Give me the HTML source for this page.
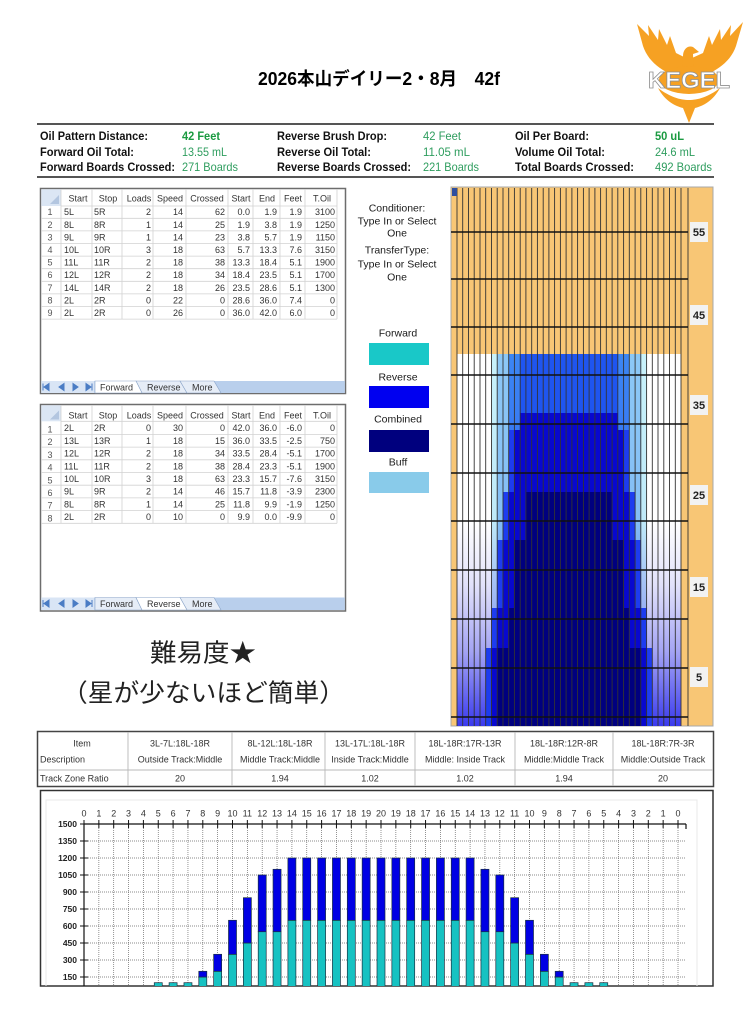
<!DOCTYPE html>
<html><head><meta charset="utf-8"><title>2026本山デイリー2・8月 42f</title>
<style>html,body{margin:0;padding:0;background:#fff;width:748px;height:1024px;overflow:hidden}svg{display:block}</style></head>
<body>
<svg width="748" height="1024" viewBox="0 0 748 1024" xmlns="http://www.w3.org/2000/svg" font-family="'Liberation Sans','Noto Sans CJK JP',sans-serif">
<defs>
<linearGradient id="gA" gradientUnits="userSpaceOnUse" x1="0" y1="354" x2="0" y2="726">
<stop offset="0" stop-color="#ffffff"/><stop offset="0.45" stop-color="#ffffff"/><stop offset="0.62" stop-color="#e2e2fa"/><stop offset="0.8" stop-color="#a4a4f4"/><stop offset="1" stop-color="#3a3aee"/></linearGradient>
<linearGradient id="gB" gradientUnits="userSpaceOnUse" x1="0" y1="354" x2="0" y2="726">
<stop offset="0" stop-color="#c8f2fb"/><stop offset="0.45" stop-color="#bfeaf9"/><stop offset="0.7" stop-color="#98aef4"/><stop offset="1" stop-color="#4654f0"/></linearGradient>
<linearGradient id="gC" gradientUnits="userSpaceOnUse" x1="0" y1="354" x2="0" y2="726">
<stop offset="0" stop-color="#8cc8f6"/><stop offset="0.45" stop-color="#84bef5"/><stop offset="1" stop-color="#3a55ef"/></linearGradient>
<linearGradient id="gD" gradientUnits="userSpaceOnUse" x1="0" y1="354" x2="0" y2="726">
<stop offset="0" stop-color="#3c86f4"/><stop offset="1" stop-color="#2a50f0"/></linearGradient>
<clipPath id="cc"><rect x="40" y="790" width="673" height="196"/></clipPath>
</defs>

<!-- Title -->
<text x="258" y="85" font-size="18" font-weight="bold" fill="#000" textLength="242" lengthAdjust="spacingAndGlyphs">2026本山デイリー2・8月　42f</text>

<!-- KEGEL logo -->
<g fill="#f6a123">
<path d="M686 80 C666 74 649 64 643 46 L637 24 L649 36 L648 25 L658 40 L659 29 L667 45 L670 36 L676 53 L686 58 Z"/>
<path d="M692 80 C712 74 730 64 736 46 L743 22 L730 36 L731 25 L721 40 L720 29 L712 45 L709 36 L703 53 L692 58 Z"/>
<path d="M682 78 L683 56 C683 49 688 45 693 47 L699 52 L693 54 L694 78 Z"/>
<ellipse cx="689" cy="80" rx="30" ry="14"/>
<path d="M658 88 C670 97 680 100 689 100 C698 100 708 97 720 88 C713 101 703 106 695 108 L689 123 L683 108 C675 106 665 101 658 88 Z"/>
</g>
<text x="648" y="88" font-size="23" font-weight="bold" fill="#fff" stroke="#8f8f8f" stroke-width="0.8" textLength="82" lengthAdjust="spacingAndGlyphs">KEGEL</text>

<!-- Info section -->
<line x1="37" y1="124" x2="714" y2="124" stroke="#555" stroke-width="2"/>
<line x1="37" y1="177" x2="714" y2="177" stroke="#555" stroke-width="2"/>
<g font-size="12" font-weight="bold" fill="#111">
<text x="40" y="139.8" textLength="108" lengthAdjust="spacingAndGlyphs">Oil Pattern Distance:</text>
<text x="40" y="155.8" textLength="94" lengthAdjust="spacingAndGlyphs">Forward Oil Total:</text>
<text x="40" y="170.8" textLength="135" lengthAdjust="spacingAndGlyphs">Forward Boards Crossed:</text>
<text x="277" y="139.8" textLength="110" lengthAdjust="spacingAndGlyphs">Reverse Brush Drop:</text>
<text x="277" y="155.8" textLength="94" lengthAdjust="spacingAndGlyphs">Reverse Oil Total:</text>
<text x="277" y="170.8" textLength="134" lengthAdjust="spacingAndGlyphs">Reverse Boards Crossed:</text>
<text x="515" y="139.8" textLength="74" lengthAdjust="spacingAndGlyphs">Oil Per Board:</text>
<text x="515" y="155.8" textLength="90" lengthAdjust="spacingAndGlyphs">Volume Oil Total:</text>
<text x="515" y="170.8" textLength="119" lengthAdjust="spacingAndGlyphs">Total Boards Crossed:</text>
<text x="182" y="139.8" fill="#1a9a40" textLength="38" lengthAdjust="spacingAndGlyphs">42 Feet</text>
<text x="655" y="139.8" fill="#1a9a40" textLength="29" lengthAdjust="spacingAndGlyphs">50 uL</text>
</g>
<g font-size="12" fill="#2e9d5e">
<text x="182" y="155.8" textLength="45" lengthAdjust="spacingAndGlyphs">13.55 mL</text>
<text x="182" y="170.8" textLength="56" lengthAdjust="spacingAndGlyphs">271 Boards</text>
<text x="423" y="139.8" textLength="38" lengthAdjust="spacingAndGlyphs">42 Feet</text>
<text x="423" y="155.8" textLength="47" lengthAdjust="spacingAndGlyphs">11.05 mL</text>
<text x="423" y="170.8" textLength="56" lengthAdjust="spacingAndGlyphs">221 Boards</text>
<text x="655" y="155.8" textLength="40" lengthAdjust="spacingAndGlyphs">24.6 mL</text>
<text x="655" y="170.8" textLength="57" lengthAdjust="spacingAndGlyphs">492 Boards</text>
</g>

<!-- Table 1 (Forward) -->
<rect x="40.5" y="188.5" width="305" height="205" fill="#fff" stroke="#6d6d6d" stroke-width="1.5"/>
<rect x="41.3" y="189.3" width="19.7" height="16.7" fill="#dbe6f4"/>
<path d="M59 204 L59 195 L50 204 Z" fill="#b3c6e0"/>
<path d="M61 206H337M41 218.3H337M41 230.9H337M41 243.5H337M41 256.1H337M41 268.7H337M41 281.3H337M41 293.9H337M41 306.5H337M41 319.1H337" stroke="#d2d2d2" stroke-width="0.8"/>
<path d="M61 189V319.1M92 189V319.1M122 189V319.1M153 189V319.1M186 189V319.1M228 189V319.1M253 189V319.1M280 189V319.1M305 189V319.1M337 189V319.1" stroke="#d2d2d2" stroke-width="0.8"/>
<g font-size="9" fill="#333">
<text y="201.5" text-anchor="middle"><tspan x="78">Start</tspan><tspan x="108">Stop</tspan><tspan x="139">Loads</tspan><tspan x="170">Speed</tspan><tspan x="207">Crossed</tspan><tspan x="241">Start</tspan><tspan x="267">End</tspan><tspan x="293">Feet</tspan><tspan x="322">T.Oil</tspan></text>
<g text-anchor="middle" fill="#555">
<text x="50" y="215.2">1</text><text x="50" y="227.8">2</text><text x="50" y="240.4">3</text><text x="50" y="253">4</text><text x="50" y="265.6">5</text><text x="50" y="278.2">6</text><text x="50" y="290.8">7</text><text x="50" y="303.4">8</text><text x="50" y="316">9</text>
</g>
<text y="215.2"><tspan x="64">5L</tspan><tspan x="94">5R</tspan></text>
<text y="227.8"><tspan x="64">8L</tspan><tspan x="94">8R</tspan></text>
<text y="240.4"><tspan x="64">9L</tspan><tspan x="94">9R</tspan></text>
<text y="253"><tspan x="64">10L</tspan><tspan x="94">10R</tspan></text>
<text y="265.6"><tspan x="64">11L</tspan><tspan x="94">11R</tspan></text>
<text y="278.2"><tspan x="64">12L</tspan><tspan x="94">12R</tspan></text>
<text y="290.8"><tspan x="64">14L</tspan><tspan x="94">14R</tspan></text>
<text y="303.4"><tspan x="64">2L</tspan><tspan x="94">2R</tspan></text>
<text y="316"><tspan x="64">2L</tspan><tspan x="94">2R</tspan></text>
<g text-anchor="end">
<text y="215.2"><tspan x="151">2</tspan><tspan x="183">14</tspan><tspan x="225">62</tspan><tspan x="250">0.0</tspan><tspan x="277">1.9</tspan><tspan x="302">1.9</tspan><tspan x="335">3100</tspan></text>
<text y="227.8"><tspan x="151">1</tspan><tspan x="183">14</tspan><tspan x="225">25</tspan><tspan x="250">1.9</tspan><tspan x="277">3.8</tspan><tspan x="302">1.9</tspan><tspan x="335">1250</tspan></text>
<text y="240.4"><tspan x="151">1</tspan><tspan x="183">14</tspan><tspan x="225">23</tspan><tspan x="250">3.8</tspan><tspan x="277">5.7</tspan><tspan x="302">1.9</tspan><tspan x="335">1150</tspan></text>
<text y="253"><tspan x="151">3</tspan><tspan x="183">18</tspan><tspan x="225">63</tspan><tspan x="250">5.7</tspan><tspan x="277">13.3</tspan><tspan x="302">7.6</tspan><tspan x="335">3150</tspan></text>
<text y="265.6"><tspan x="151">2</tspan><tspan x="183">18</tspan><tspan x="225">38</tspan><tspan x="250">13.3</tspan><tspan x="277">18.4</tspan><tspan x="302">5.1</tspan><tspan x="335">1900</tspan></text>
<text y="278.2"><tspan x="151">2</tspan><tspan x="183">18</tspan><tspan x="225">34</tspan><tspan x="250">18.4</tspan><tspan x="277">23.5</tspan><tspan x="302">5.1</tspan><tspan x="335">1700</tspan></text>
<text y="290.8"><tspan x="151">2</tspan><tspan x="183">18</tspan><tspan x="225">26</tspan><tspan x="250">23.5</tspan><tspan x="277">28.6</tspan><tspan x="302">5.1</tspan><tspan x="335">1300</tspan></text>
<text y="303.4"><tspan x="151">0</tspan><tspan x="183">22</tspan><tspan x="225">0</tspan><tspan x="250">28.6</tspan><tspan x="277">36.0</tspan><tspan x="302">7.4</tspan><tspan x="335">0</tspan></text>
<text y="316"><tspan x="151">0</tspan><tspan x="183">26</tspan><tspan x="225">0</tspan><tspan x="250">36.0</tspan><tspan x="277">42.0</tspan><tspan x="302">6.0</tspan><tspan x="335">0</tspan></text>
</g>
</g>
<!-- tabs 1 -->
<rect x="41.3" y="381" width="303.5" height="12" fill="#b9cfec"/>
<rect x="41.3" y="381" width="53" height="12" fill="#d9e5f5"/>
<path d="M43 383.5v7M49 383.5l-5 3.5 5 3.5zM64 383.5l-5 3.5 5 3.5zM73 383.5l5 3.5-5 3.5zM86 383.5l5 3.5-5 3.5zM92 383.5v7" fill="#4a7cc4" stroke="#4a7cc4" stroke-width="1"/>
<path d="M136 381H180L187 393H142Z" fill="#e6edf7" stroke="#8aa4c8" stroke-width="0.6"/>
<path d="M180 381H214L221 393H187Z" fill="#e6edf7" stroke="#8aa4c8" stroke-width="0.6"/>
<path d="M95 381H136L142 393H95Z" fill="#fff" stroke="#8aa4c8" stroke-width="0.6"/>
<g font-size="9" fill="#333"><text x="100" y="390.5">Forward</text><text x="147" y="390.5">Reverse</text><text x="192" y="390.5">More</text></g>

<!-- Table 2 (Reverse) -->
<rect x="40.5" y="404.5" width="305" height="206.5" fill="#fff" stroke="#6d6d6d" stroke-width="1.5"/>
<rect x="41.3" y="405.3" width="19.7" height="16" fill="#dbe6f4"/>
<path d="M59 419.5 L59 410.5 L50 419.5 Z" fill="#b3c6e0"/>
<path d="M61 421.3H337M41 434.4H337M41 447.1H337M41 459.8H337M41 472.5H337M41 485.2H337M41 497.9H337M41 510.6H337M41 523.3H337" stroke="#d2d2d2" stroke-width="0.8"/>
<path d="M61 405V523.3M92 405V523.3M122 405V523.3M153 405V523.3M186 405V523.3M228 405V523.3M253 405V523.3M280 405V523.3M305 405V523.3M337 405V523.3" stroke="#d2d2d2" stroke-width="0.8"/>
<g font-size="9" fill="#333">
<text y="418.3" text-anchor="middle"><tspan x="78">Start</tspan><tspan x="108">Stop</tspan><tspan x="139">Loads</tspan><tspan x="170">Speed</tspan><tspan x="207">Crossed</tspan><tspan x="241">Start</tspan><tspan x="267">End</tspan><tspan x="293">Feet</tspan><tspan x="322">T.Oil</tspan></text>
<g text-anchor="middle" fill="#555">
<text x="50" y="432.5">1</text><text x="50" y="445.2">2</text><text x="50" y="457.9">3</text><text x="50" y="470.6">4</text><text x="50" y="483.3">5</text><text x="50" y="496">6</text><text x="50" y="508.7">7</text><text x="50" y="521.4">8</text>
</g>
<text y="431.2"><tspan x="64">2L</tspan><tspan x="94">2R</tspan></text>
<text y="443.9"><tspan x="64">13L</tspan><tspan x="94">13R</tspan></text>
<text y="456.6"><tspan x="64">12L</tspan><tspan x="94">12R</tspan></text>
<text y="469.3"><tspan x="64">11L</tspan><tspan x="94">11R</tspan></text>
<text y="482"><tspan x="64">10L</tspan><tspan x="94">10R</tspan></text>
<text y="494.7"><tspan x="64">9L</tspan><tspan x="94">9R</tspan></text>
<text y="507.4"><tspan x="64">8L</tspan><tspan x="94">8R</tspan></text>
<text y="520.1"><tspan x="64">2L</tspan><tspan x="94">2R</tspan></text>
<g text-anchor="end">
<text y="431.2"><tspan x="151">0</tspan><tspan x="183">30</tspan><tspan x="225">0</tspan><tspan x="250">42.0</tspan><tspan x="277">36.0</tspan><tspan x="302">-6.0</tspan><tspan x="335">0</tspan></text>
<text y="443.9"><tspan x="151">1</tspan><tspan x="183">18</tspan><tspan x="225">15</tspan><tspan x="250">36.0</tspan><tspan x="277">33.5</tspan><tspan x="302">-2.5</tspan><tspan x="335">750</tspan></text>
<text y="456.6"><tspan x="151">2</tspan><tspan x="183">18</tspan><tspan x="225">34</tspan><tspan x="250">33.5</tspan><tspan x="277">28.4</tspan><tspan x="302">-5.1</tspan><tspan x="335">1700</tspan></text>
<text y="469.3"><tspan x="151">2</tspan><tspan x="183">18</tspan><tspan x="225">38</tspan><tspan x="250">28.4</tspan><tspan x="277">23.3</tspan><tspan x="302">-5.1</tspan><tspan x="335">1900</tspan></text>
<text y="482"><tspan x="151">3</tspan><tspan x="183">18</tspan><tspan x="225">63</tspan><tspan x="250">23.3</tspan><tspan x="277">15.7</tspan><tspan x="302">-7.6</tspan><tspan x="335">3150</tspan></text>
<text y="494.7"><tspan x="151">2</tspan><tspan x="183">14</tspan><tspan x="225">46</tspan><tspan x="250">15.7</tspan><tspan x="277">11.8</tspan><tspan x="302">-3.9</tspan><tspan x="335">2300</tspan></text>
<text y="507.4"><tspan x="151">1</tspan><tspan x="183">14</tspan><tspan x="225">25</tspan><tspan x="250">11.8</tspan><tspan x="277">9.9</tspan><tspan x="302">-1.9</tspan><tspan x="335">1250</tspan></text>
<text y="520.1"><tspan x="151">0</tspan><tspan x="183">10</tspan><tspan x="225">0</tspan><tspan x="250">9.9</tspan><tspan x="277">0.0</tspan><tspan x="302">-9.9</tspan><tspan x="335">0</tspan></text>
</g>
</g>
<!-- tabs 2 -->
<rect x="41.3" y="597.5" width="303.5" height="12.5" fill="#b9cfec"/>
<rect x="41.3" y="597.5" width="53" height="12.5" fill="#d9e5f5"/>
<path d="M43 600v7M49 600l-5 3.5 5 3.5zM64 600l-5 3.5 5 3.5zM73 600l5 3.5-5 3.5zM86 600l5 3.5-5 3.5zM92 600v7" fill="#4a7cc4" stroke="#4a7cc4" stroke-width="1"/>
<path d="M95 597.5H136L142 610H95Z" fill="#e6edf7" stroke="#8aa4c8" stroke-width="0.6"/>
<path d="M180 597.5H214L221 610H187Z" fill="#e6edf7" stroke="#8aa4c8" stroke-width="0.6"/>
<path d="M136 597.5H180L187 610H142Z" fill="#fff" stroke="#8aa4c8" stroke-width="0.6"/>
<g font-size="9" fill="#333"><text x="100" y="607">Forward</text><text x="147" y="607">Reverse</text><text x="192" y="607">More</text></g>

<!-- Middle legend -->
<g font-size="10.5" fill="#1a1a1a" text-anchor="middle">
<text x="397" y="211.7">Conditioner:</text>
<text x="397" y="224.7">Type In or Select</text>
<text x="397" y="236.7">One</text>
<text x="397" y="253.7">TransferType:</text>
<text x="397" y="267.7">Type In or Select</text>
<text x="397" y="280.7">One</text>
<text x="398" y="336.7">Forward</text>
<text x="398" y="380.7">Reverse</text>
<text x="398" y="422.7">Combined</text>
<text x="398" y="465.7">Buff</text>
</g>
<rect x="369" y="343" width="60" height="22" fill="#19c8c8"/>
<rect x="369" y="386" width="60" height="22" fill="#0000f0"/>
<rect x="369" y="430" width="60" height="22" fill="#00007e"/>
<rect x="369" y="472" width="60" height="21" fill="#89cbea"/>

<!-- Lane graphic -->
<rect x="451" y="187" width="262" height="539" fill="#f8c675" stroke="#a8a8a8" stroke-width="1"/>
<rect x="457" y="354" width="224" height="372" fill="url(#gA)"/>
<rect x="491.5" y="354" width="155.1" height="372" fill="url(#gB)"/>
<rect x="497.2" y="354" width="143.6" height="372" fill="url(#gC)"/>
<rect x="508.7" y="354" width="120.6" height="372" fill="url(#gD)"/>
<rect x="520.2" y="354" width="97.6" height="59" fill="#1f55f0"/>
<path d="M508.7 430H629.3V492H635.1V540H640.8V608H646.6V648H652.3V726H485.7V648H491.5V608H497.2V540H503V492H508.7Z" fill="#1d3cf0"/>
<path d="M520.2 413H617.8V430H623.6V492H629.3V540H635.1V608H640.8V648H646.6V726H491.5V648H497.2V608H503V540H508.7V492H514.4V430H520.2Z" fill="#0808cf"/>
<path d="M525.9 492H612.1V540H623.6V608H629.3V648H640.8V726H497.2V648H508.7V608H514.4V540H525.9Z" fill="#00007f"/>
<path d="M457 188v538M462.7 188v538M468.5 188v538M474.2 188v538M480 188v538M485.7 188v538M491.5 188v538M497.2 188v538M503 188v538M508.7 188v538M514.4 188v538M520.2 188v538M525.9 188v538M531.7 188v538M537.4 188v538M543.2 188v538M548.9 188v538M554.6 188v538M560.4 188v538M566.1 188v538M571.9 188v538M577.6 188v538M583.4 188v538M589.1 188v538M594.9 188v538M600.6 188v538M606.3 188v538M612.1 188v538M617.8 188v538M623.6 188v538M629.3 188v538M635.1 188v538M640.8 188v538M646.6 188v538M652.3 188v538M658 188v538M663.8 188v538M669.5 188v538M675.3 188v538M681 188v538M688 188v538" stroke="#333" stroke-width="0.9"/>
<path d="M451 232H688M451 279H688M451 327H688M451 375H688M451 424H688M451 473H688M451 521H688M451 570H688M451 619H688M451 668H688M451 717H688" stroke="#111" stroke-width="1.5"/>
<rect x="452" y="188" width="5" height="8" fill="#2f4f9f"/>
<g fill="#f2f2f2">
<rect x="690" y="222" width="18" height="20"/><rect x="690" y="305" width="18" height="20"/><rect x="690" y="395" width="18" height="20"/><rect x="690" y="485" width="18" height="20"/><rect x="690" y="577" width="18" height="20"/><rect x="690" y="667" width="18" height="20"/>
</g>
<g font-size="11" font-weight="bold" fill="#222" text-anchor="middle">
<text x="699" y="236">55</text><text x="699" y="319">45</text><text x="699" y="409">35</text><text x="699" y="499">25</text><text x="699" y="591">15</text><text x="699" y="681">5</text>
</g>

<!-- Japanese note -->
<text x="150" y="661.5" font-size="25" fill="#222" font-family="'Noto Sans CJK JP',sans-serif" textLength="106" lengthAdjust="spacingAndGlyphs">難易度★</text>
<text x="62" y="701.5" font-size="25" fill="#222" font-family="'Noto Sans CJK JP',sans-serif" textLength="283" lengthAdjust="spacingAndGlyphs">（星が少ないほど簡単）</text>

<!-- Track zone table -->
<rect x="37.5" y="731.5" width="676" height="55" fill="#fff" stroke="#444" stroke-width="1.5"/>
<path d="M38 770H713M128 732V786M232 732V786M325 732V786M415 732V786M515 732V786M613 732V786" stroke="#b8b8b8" stroke-width="0.9"/>
<g font-size="9" fill="#333">
<text x="82" y="746.5" text-anchor="middle">Item</text>
<text x="40" y="762.5">Description</text>
<text x="40" y="781.5">Track Zone Ratio</text>
<g text-anchor="middle">
<text x="180" y="746.5">3L-7L:18L-18R</text><text x="180" y="762.5">Outside Track:Middle</text><text x="180" y="781.5">20</text>
<text x="280" y="746.5">8L-12L:18L-18R</text><text x="280" y="762.5">Middle Track:Middle</text><text x="280" y="781.5">1.94</text>
<text x="370" y="746.5">13L-17L:18L-18R</text><text x="370" y="762.5">Inside Track:Middle</text><text x="370" y="781.5">1.02</text>
<text x="465" y="746.5">18L-18R:17R-13R</text><text x="465" y="762.5">Middle: Inside Track</text><text x="465" y="781.5">1.02</text>
<text x="564" y="746.5">18L-18R:12R-8R</text><text x="564" y="762.5">Middle:Middle Track</text><text x="564" y="781.5">1.94</text>
<text x="663" y="746.5">18L-18R:7R-3R</text><text x="663" y="762.5">Middle:Outside Track</text><text x="663" y="781.5">20</text>
</g>
</g>

<!-- Bar chart -->
<rect x="40.5" y="790.5" width="672.5" height="195.5" fill="#fff" stroke="#333" stroke-width="1.5"/>
<g clip-path="url(#cc)">
<rect x="46" y="800" width="651" height="190" fill="none" stroke="#e8e8e8" stroke-width="1"/>
<path d="M84 841H686M84 858H686M84 875H686M84 892H686M84 909H686M84 926H686M84 943H686M84 960H686M84 977H686" stroke="#666" stroke-width="0.7" stroke-dasharray="1 1"/>
<path d="M98.85 824v162M113.7 824v162M128.55 824v162M143.4 824v162M158.25 824v162M173.1 824v162M187.95 824v162M202.8 824v162M217.65 824v162M232.5 824v162M247.35 824v162M262.2 824v162M277.05 824v162M291.9 824v162M306.75 824v162M321.6 824v162M336.45 824v162M351.3 824v162M366.15 824v162M381 824v162M395.85 824v162M410.7 824v162M425.55 824v162M440.4 824v162M455.25 824v162M470.1 824v162M484.95 824v162M499.8 824v162M514.65 824v162M529.5 824v162M544.35 824v162M559.2 824v162M574.05 824v162M588.9 824v162M603.75 824v162M618.6 824v162M633.45 824v162M648.3 824v162M663.15 824v162M678 824v162" stroke="#666" stroke-width="0.7" stroke-dasharray="1 1"/>
<g stroke="#1a3040" stroke-width="0.7">
<g fill="#16c2c2">
<rect x="154.25" y="982.7" width="8" height="11.3"/><rect x="169.1" y="982.7" width="8" height="11.3"/><rect x="183.95" y="982.7" width="8" height="11.3"/>
<rect x="198.8" y="977" width="8" height="17"/>
<rect x="213.65" y="971.3" width="8" height="22.7"/>
<rect x="228.5" y="954.3" width="8" height="39.7"/>
<rect x="243.35" y="943" width="8" height="51"/>
<rect x="258.2" y="931.7" width="8" height="62.3"/>
<rect x="273.05" y="931.7" width="8" height="62.3"/>
<rect x="287.9" y="920.3" width="8" height="73.7"/><rect x="302.75" y="920.3" width="8" height="73.7"/><rect x="317.6" y="920.3" width="8" height="73.7"/><rect x="332.45" y="920.3" width="8" height="73.7"/><rect x="347.3" y="920.3" width="8" height="73.7"/><rect x="362.15" y="920.3" width="8" height="73.7"/><rect x="377" y="920.3" width="8" height="73.7"/><rect x="391.85" y="920.3" width="8" height="73.7"/><rect x="406.7" y="920.3" width="8" height="73.7"/><rect x="421.55" y="920.3" width="8" height="73.7"/><rect x="436.4" y="920.3" width="8" height="73.7"/><rect x="451.25" y="920.3" width="8" height="73.7"/><rect x="466.1" y="920.3" width="8" height="73.7"/>
<rect x="480.95" y="931.7" width="8" height="62.3"/>
<rect x="495.8" y="931.7" width="8" height="62.3"/>
<rect x="510.65" y="943" width="8" height="51"/>
<rect x="525.5" y="954.3" width="8" height="39.7"/>
<rect x="540.35" y="971.3" width="8" height="22.7"/>
<rect x="555.2" y="977" width="8" height="17"/>
<rect x="570.05" y="982.7" width="8" height="11.3"/><rect x="584.9" y="982.7" width="8" height="11.3"/><rect x="599.75" y="982.7" width="8" height="11.3"/>
</g>
<g fill="#0000e4">
<rect x="198.8" y="971.3" width="8" height="5.7"/>
<rect x="213.65" y="954.3" width="8" height="17"/>
<rect x="228.5" y="920.3" width="8" height="34"/>
<rect x="243.35" y="897.7" width="8" height="45.3"/>
<rect x="258.2" y="875" width="8" height="56.7"/>
<rect x="273.05" y="869.3" width="8" height="62.4"/>
<rect x="287.9" y="858" width="8" height="62.3"/><rect x="302.75" y="858" width="8" height="62.3"/><rect x="317.6" y="858" width="8" height="62.3"/><rect x="332.45" y="858" width="8" height="62.3"/><rect x="347.3" y="858" width="8" height="62.3"/><rect x="362.15" y="858" width="8" height="62.3"/><rect x="377" y="858" width="8" height="62.3"/><rect x="391.85" y="858" width="8" height="62.3"/><rect x="406.7" y="858" width="8" height="62.3"/><rect x="421.55" y="858" width="8" height="62.3"/><rect x="436.4" y="858" width="8" height="62.3"/><rect x="451.25" y="858" width="8" height="62.3"/><rect x="466.1" y="858" width="8" height="62.3"/>
<rect x="480.95" y="869.3" width="8" height="62.4"/>
<rect x="495.8" y="875" width="8" height="56.7"/>
<rect x="510.65" y="897.7" width="8" height="45.3"/>
<rect x="525.5" y="920.3" width="8" height="34"/>
<rect x="540.35" y="954.3" width="8" height="17"/>
<rect x="555.2" y="971.3" width="8" height="5.7"/>
</g>
</g>
<path d="M84 824H686M84 824V986M686 824v5" stroke="#111" stroke-width="1.2" fill="none"/>
<path d="M84 820v8M98.85 820v8M113.7 820v8M128.55 820v8M143.4 820v8M158.25 820v8M173.1 820v8M187.95 820v8M202.8 820v8M217.65 820v8M232.5 820v8M247.35 820v8M262.2 820v8M277.05 820v8M291.9 820v8M306.75 820v8M321.6 820v8M336.45 820v8M351.3 820v8M366.15 820v8M381 820v8M395.85 820v8M410.7 820v8M425.55 820v8M440.4 820v8M455.25 820v8M470.1 820v8M484.95 820v8M499.8 820v8M514.65 820v8M529.5 820v8M544.35 820v8M559.2 820v8M574.05 820v8M588.9 820v8M603.75 820v8M618.6 820v8M633.45 820v8M648.3 820v8M663.15 820v8M678 820v8M80 824h8M80 841h8M80 858h8M80 875h8M80 892h8M80 909h8M80 926h8M80 943h8M80 960h8M80 977h8" stroke="#111" stroke-width="1"/>
</g>
<g font-size="9" fill="#333">
<text y="816.5" text-anchor="middle"><tspan x="84">0</tspan><tspan x="98.85">1</tspan><tspan x="113.7">2</tspan><tspan x="128.55">3</tspan><tspan x="143.4">4</tspan><tspan x="158.25">5</tspan><tspan x="173.1">6</tspan><tspan x="187.95">7</tspan><tspan x="202.8">8</tspan><tspan x="217.65">9</tspan><tspan x="232.5">10</tspan><tspan x="247.35">11</tspan><tspan x="262.2">12</tspan><tspan x="277.05">13</tspan><tspan x="291.9">14</tspan><tspan x="306.75">15</tspan><tspan x="321.6">16</tspan><tspan x="336.45">17</tspan><tspan x="351.3">18</tspan><tspan x="366.15">19</tspan><tspan x="381">20</tspan><tspan x="395.85">19</tspan><tspan x="410.7">18</tspan><tspan x="425.55">17</tspan><tspan x="440.4">16</tspan><tspan x="455.25">15</tspan><tspan x="470.1">14</tspan><tspan x="484.95">13</tspan><tspan x="499.8">12</tspan><tspan x="514.65">11</tspan><tspan x="529.5">10</tspan><tspan x="544.35">9</tspan><tspan x="559.2">8</tspan><tspan x="574.05">7</tspan><tspan x="588.9">6</tspan><tspan x="603.75">5</tspan><tspan x="618.6">4</tspan><tspan x="633.45">3</tspan><tspan x="648.3">2</tspan><tspan x="663.15">1</tspan><tspan x="678">0</tspan></text>
</g>
<g font-size="8.5" font-weight="bold" fill="#222" text-anchor="end">
<text x="77" y="827">1500</text><text x="77" y="844">1350</text><text x="77" y="861">1200</text><text x="77" y="878">1050</text><text x="77" y="895">900</text><text x="77" y="912">750</text><text x="77" y="929">600</text><text x="77" y="946">450</text><text x="77" y="963">300</text><text x="77" y="980">150</text>
</g>
</svg>
</body></html>
